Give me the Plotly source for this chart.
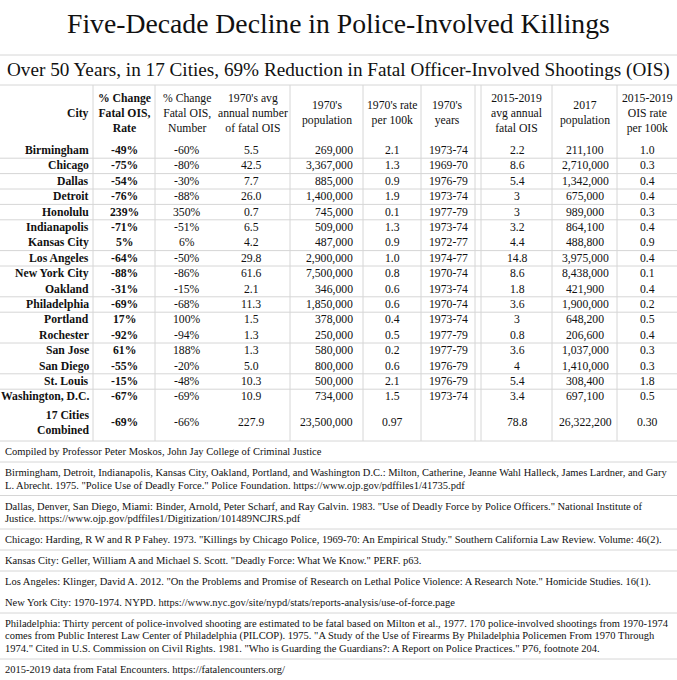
import plotly.graph_objects as go

# ---------------- data ----------------
title_text = "Five-Decade Decline in Police-Involved Killings"
subtitle_text = "Over 50 Years, in 17 Cities, 69% Reduction in Fatal Officer-Involved Shootings (OIS)"

headers = [
    "City",
    "% Change<br>Fatal OIS,<br>Rate",
    "% Change<br>Fatal OIS,<br>Number",
    "1970's avg<br>annual number<br>of fatal OIS",
    "1970's<br>population",
    "1970's rate<br>per 100k",
    "1970's<br>years",
    "2015-2019<br>avg annual<br>fatal OIS",
    "2017<br>population",
    "2015-2019<br>OIS rate<br>per 100k",
]

cities = ["Birmingham", "Chicago", "Dallas", "Detroit", "Honolulu", "Indianapolis",
          "Kansas City", "Los Angeles", "New York City", "Oakland", "Philadelphia",
          "Portland", "Rochester", "San Jose", "San Diego", "St. Louis", "Washington, D.C."]
pct_change_rate = ["-49%", "-75%", "-54%", "-76%", "239%", "-71%", "5%", "-64%", "-88%",
                   "-31%", "-69%", "17%", "-92%", "61%", "-55%", "-15%", "-67%"]
pct_change_number = ["-60%", "-80%", "-30%", "-88%", "350%", "-51%", "6%", "-50%", "-86%",
                     "-15%", "-68%", "100%", "-94%", "188%", "-20%", "-48%", "-69%"]
avg_fatal_1970s = ["5.5", "42.5", "7.7", "26.0", "0.7", "6.5", "4.2", "29.8", "61.6",
                   "2.1", "11.3", "1.5", "1.3", "1.3", "5.0", "10.3", "10.9"]
population_1970s = ["269,000", "3,367,000", "885,000", "1,400,000", "745,000", "509,000",
                    "487,000", "2,900,000", "7,500,000", "346,000", "1,850,000", "378,000",
                    "250,000", "580,000", "800,000", "500,000", "734,000"]
rate_1970s = ["2.1", "1.3", "0.9", "1.9", "0.1", "1.3", "0.9", "1.0", "0.8", "0.6", "0.6",
              "0.4", "0.5", "0.2", "0.6", "2.1", "1.5"]
years_1970s = ["1973-74", "1969-70", "1976-79", "1973-74", "1977-79", "1973-74", "1972-77",
               "1974-77", "1970-74", "1973-74", "1970-74", "1973-74", "1977-79", "1977-79",
               "1976-79", "1976-79", "1973-74"]
avg_fatal_2015_2019 = ["2.2", "8.6", "5.4", "3", "3", "3.2", "4.4", "14.8", "8.6", "1.8",
                       "3.6", "3", "0.8", "3.6", "4", "5.4", "3.4"]
population_2017 = ["211,100", "2,710,000", "1,342,000", "675,000", "989,000", "864,100",
                   "488,800", "3,975,000", "8,438,000", "421,900", "1,900,000", "648,200",
                   "206,600", "1,037,000", "1,410,000", "308,400", "697,100"]
rate_2015_2019 = ["1.0", "0.3", "0.4", "0.4", "0.3", "0.4", "0.9", "0.4", "0.1", "0.4",
                  "0.2", "0.5", "0.4", "0.3", "0.3", "1.8", "0.5"]

combined_row = ["17 Cities<br>Combined", "-69%", "-66%", "227.9", "23,500,000", "0.97", "",
                "78.8", "26,322,200", "0.30"]

# rows followed by a ruled line (index into cities)
ruled_after = [0, 1, 2, 3, 4, 6, 7, 9, 10, 12, 14, 15]

footnotes = [
    ["Compiled by Professor Peter Moskos, John Jay College of Criminal Justice"],
    ["Birmingham, Detroit, Indianapolis, Kansas City, Oakland, Portland, and Washington D.C.: Milton, Catherine, Jeanne Wahl Halleck, James Lardner, and Gary",
     "L. Abrecht. 1975. \"Police Use of Deadly Force.\" Police Foundation. https://www.ojp.gov/pdffiles1/41735.pdf"],
    ["Dallas, Denver, San Diego, Miami: Binder, Arnold, Peter Scharf, and Ray Galvin. 1983. \"Use of Deadly Force by Police Officers.\" National Institute of",
     "Justice. https://www.ojp.gov/pdffiles1/Digitization/101489NCJRS.pdf"],
    ["Chicago: Harding, R W and R P Fahey. 1973. \"Killings by Chicago Police, 1969-70: An Empirical Study.\" Southern California Law Review. Volume: 46(2)."],
    ["Kansas City: Geller, William A and Michael S. Scott. \"Deadly Force: What We Know.\" PERF. p63."],
    ["Los Angeles: Klinger, David A. 2012. \"On the Problems and Promise of Research on Lethal Police Violence: A Research Note.\" Homicide Studies. 16(1)."],
    ["New York City: 1970-1974. NYPD. https://www.nyc.gov/site/nypd/stats/reports-analysis/use-of-force.page"],
    ["Philadelphia: Thirty percent of police-involved shooting are estimated to be fatal based on Milton et al., 1977. 170 police-involved shootings from 1970-1974",
     "comes from Public Interest Law Center of Philadelphia (PILCOP). 1975. \"A Study of the Use of Firearms By Philadelphia Policemen From 1970 Through",
     "1974.\" Cited in U.S. Commission on Civil Rights. 1981. \"Who is Guarding the Guardians?: A Report on Police Practices.\" P76, footnote 204."],
    ["2015-2019 data from Fatal Encounters. https://fatalencounters.org/"],
]
# footnote blocks followed by a ruled line
footnote_ruled_after = [0, 1, 2, 3, 4, 6, 7]

# ---------------- layout constants ----------------
W, H = 677, 680
FONT = "Liberation Serif, Times New Roman, serif"
GRID = "#d6d6d6"
TXT = "#111111"

columns = [cities, pct_change_rate, pct_change_number, avg_fatal_1970s, population_1970s,
           rate_1970s, years_1970s, avg_fatal_2015_2019, population_2017, rate_2015_2019]
# (x, anchor) for body cells and header cells
body_pos = [(91, "right"), (124.5, "center"), (187, "center"), (251, "center"), (355, "right"),
            (392, "center"), (448, "center"), (517, "center"), (585, "center"), (647, "center")]
head_pos = [(91, "right"), (124.5, "center"), (187, "center"), (253, "center"), (327, "center"),
            (392, "center"), (447, "center"), (517, "center"), (585, "center"), (647, "center")]
bold_cols = {0, 1}
vlines = [93, 155, 290, 363, 421, 475, 481, 552, 617]

TABLE_TOP = 85
HEADER_MID = 113
ROW0 = 150.5
ROW_H = 15.4
COMB_MID = 422.5
TABLE_BOT = 441
TBL_FONT = 11.7

FN_FONT = 10.5
FN_PITCH = 12.5
FN_PAD = 8.5

fig = go.Figure()
fig.add_trace(go.Scatter(x=[0, W], y=[0, H], mode="markers",
                         marker=dict(opacity=0), hoverinfo="skip", showlegend=False))

ann = []
shapes = []


def hline(y, x0=0, x1=W, color=GRID):
    shapes.append(dict(type="line", xref="x", yref="y", x0=x0, x1=x1, y0=y, y1=y,
                       line=dict(color=color, width=1)))


def text(x, y, s, size, anchor="center", bold=False, align=None):
    ann.append(dict(x=x, y=y, xref="x", yref="y", text=("<b>%s</b>" % s) if bold else s,
                    showarrow=False, xanchor=anchor, yanchor="middle",
                    align=align or anchor, font=dict(family=FONT, size=size, color=TXT)))


# title & subtitle
text(W / 2, 23, title_text, 27.7)
hline(55)
text(W / 2, 70, subtitle_text, 19.2)
hline(TABLE_TOP)

# headers
for i, h in enumerate(headers):
    x, a = head_pos[i]
    text(x, HEADER_MID, h, TBL_FONT, a, bold=i in bold_cols)

# body
for c, col in enumerate(columns):
    x, a = body_pos[c]
    for r, v in enumerate(col):
        text(x, ROW0 + r * ROW_H, v, TBL_FONT, a, bold=c in bold_cols)
for c, v in enumerate(combined_row):
    x, a = body_pos[c]
    if v:
        text(x, COMB_MID, v, TBL_FONT, a, bold=c in bold_cols)

for r in ruled_after:
    hline(ROW0 + r * ROW_H + ROW_H / 2)
hline(TABLE_BOT)
for x in vlines:
    shapes.append(dict(type="line", xref="x", yref="y", x0=x, x1=x, y0=TABLE_TOP, y1=TABLE_BOT,
                       line=dict(color=GRID, width=1)))

# footnotes
y = TABLE_BOT
for b, block in enumerate(footnotes):
    top = y
    for k, line in enumerate(block):
        text(3, top + FN_PAD / 2 + FN_PITCH / 2 + k * FN_PITCH, line, FN_FONT, "left")
    y = top + FN_PAD + FN_PITCH * len(block)
    if b in footnote_ruled_after:
        hline(y)

fig.update_layout(
    width=W, height=H, margin=dict(l=0, r=0, t=0, b=0),
    paper_bgcolor="white", plot_bgcolor="white",
    xaxis=dict(range=[0, W], visible=False, fixedrange=True),
    yaxis=dict(range=[H, 0], visible=False, fixedrange=True),
    annotations=ann, shapes=shapes, showlegend=False,
)
fig.write_html("out.html", config={"displayModeBar": False},
               post_script="document.body.style.margin='0';document.body.style.overflow='hidden';")
